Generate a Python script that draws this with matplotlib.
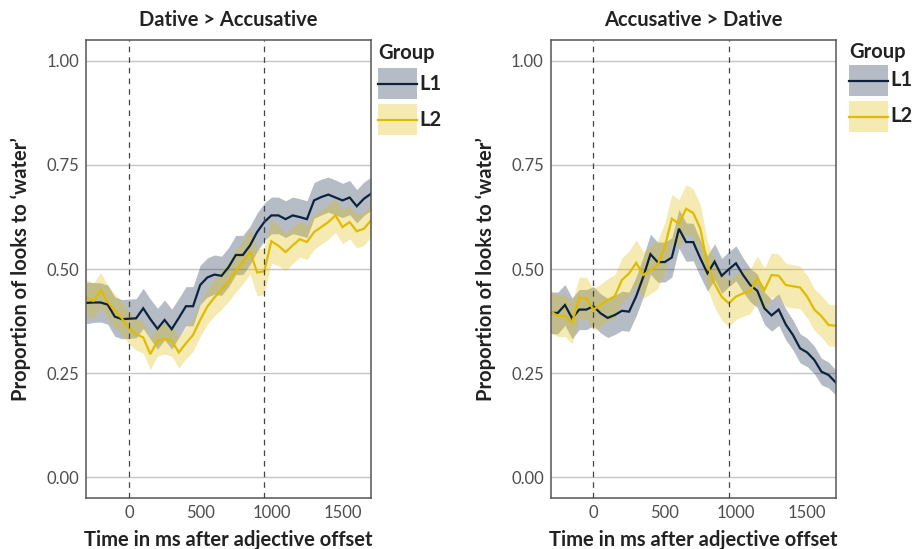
import matplotlib
matplotlib.use("Agg")
import matplotlib.pyplot as plt
from matplotlib.patches import Rectangle
from matplotlib.lines import Line2D

plt.rcParams['font.family'] = ['Lato', 'DejaVu Sans']

# time bins (ms after adjective offset)
time_ms = [-300, -250, -200, -150, -100, -50, 0, 50, 100, 150, 200, 250, 300,
           350, 400, 450, 500, 550, 600, 650, 700, 750, 800, 850, 900, 950,
           1000, 1050, 1100, 1150, 1200, 1250, 1300, 1350, 1400, 1450, 1500,
           1550, 1600, 1650, 1700]

# Dative > Accusative
dat_l1 = [0.419, 0.420, 0.420, 0.415, 0.386, 0.380, 0.381, 0.382, 0.406, 0.380,
          0.357, 0.378, 0.356, 0.383, 0.411, 0.411, 0.462, 0.480, 0.487, 0.484,
          0.505, 0.534, 0.534, 0.557, 0.589, 0.613, 0.629, 0.629, 0.620, 0.629,
          0.625, 0.620, 0.665, 0.673, 0.679, 0.672, 0.665, 0.672, 0.651, 0.669,
          0.681]
dat_l1_se = [0.050, 0.048, 0.047, 0.047, 0.047, 0.047, 0.047, 0.047, 0.048, 0.048,
             0.049, 0.048, 0.048, 0.047, 0.047, 0.047, 0.047, 0.047, 0.047, 0.047,
             0.047, 0.047, 0.047, 0.046, 0.046, 0.045, 0.044, 0.044, 0.044, 0.044,
             0.044, 0.044, 0.043, 0.043, 0.042, 0.042, 0.041, 0.041, 0.040, 0.040,
             0.040]
dat_l2 = [0.432, 0.424, 0.450, 0.422, 0.400, 0.382, 0.358, 0.344, 0.336, 0.296,
          0.328, 0.333, 0.328, 0.300, 0.322, 0.342, 0.378, 0.410, 0.432, 0.450,
          0.470, 0.495, 0.517, 0.543, 0.492, 0.495, 0.567, 0.556, 0.541, 0.557,
          0.572, 0.565, 0.589, 0.601, 0.613, 0.629, 0.601, 0.613, 0.591, 0.597,
          0.617]
dat_l2_se = [0.043, 0.042, 0.042, 0.040, 0.040, 0.039, 0.038, 0.038, 0.038, 0.037,
             0.037, 0.037, 0.037, 0.037, 0.038, 0.039, 0.040, 0.042, 0.044, 0.046,
             0.048, 0.050, 0.052, 0.055, 0.056, 0.056, 0.052, 0.048, 0.045, 0.044,
             0.043, 0.042, 0.042, 0.041, 0.041, 0.041, 0.040, 0.040, 0.040, 0.040,
             0.040]

# Accusative > Dative
acc_l1 = [0.395, 0.395, 0.414, 0.382, 0.403, 0.403, 0.411, 0.394, 0.383, 0.390,
          0.400, 0.398, 0.435, 0.482, 0.536, 0.517, 0.517, 0.528, 0.597, 0.565,
          0.565, 0.526, 0.490, 0.518, 0.484, 0.500, 0.514, 0.486, 0.462, 0.448,
          0.406, 0.389, 0.403, 0.367, 0.342, 0.310, 0.300, 0.282, 0.254, 0.246,
          0.228]
acc_l1_se = [0.050, 0.050, 0.049, 0.049, 0.048, 0.048, 0.047, 0.047, 0.047, 0.047,
             0.047, 0.047, 0.047, 0.048, 0.048, 0.048, 0.048, 0.047, 0.047, 0.046,
             0.045, 0.044, 0.043, 0.043, 0.042, 0.042, 0.042, 0.041, 0.040, 0.040,
             0.039, 0.038, 0.038, 0.037, 0.036, 0.035, 0.034, 0.033, 0.032, 0.031,
             0.030]
acc_l2 = [0.398, 0.388, 0.388, 0.372, 0.431, 0.430, 0.403, 0.414, 0.426, 0.435,
          0.474, 0.490, 0.515, 0.486, 0.498, 0.510, 0.553, 0.621, 0.609, 0.645,
          0.635, 0.597, 0.510, 0.465, 0.434, 0.418, 0.434, 0.442, 0.447, 0.478,
          0.450, 0.486, 0.484, 0.462, 0.459, 0.456, 0.434, 0.403, 0.387, 0.366,
          0.364]
acc_l2_se = [0.050, 0.050, 0.050, 0.050, 0.050, 0.050, 0.050, 0.050, 0.051, 0.052,
             0.053, 0.054, 0.055, 0.056, 0.057, 0.058, 0.058, 0.058, 0.058, 0.058,
             0.058, 0.058, 0.057, 0.057, 0.056, 0.056, 0.055, 0.055, 0.054, 0.054,
             0.053, 0.053, 0.052, 0.052, 0.052, 0.051, 0.051, 0.050, 0.050, 0.050,
             0.050]

groups = ['L1', 'L2']
group_colors = ['#0c2340', '#e0bc00']
y_ticks = [0.00, 0.25, 0.50, 0.75, 1.00]
x_ticks = [0, 500, 1000, 1500]
markers_ms = [0, 950]

panels = [
    ('Dative > Accusative', [(dat_l1, dat_l1_se), (dat_l2, dat_l2_se)]),
    ('Accusative > Dative', [(acc_l1, acc_l1_se), (acc_l2, acc_l2_se)]),
]

W, H = 913, 549
fig = plt.figure(figsize=(W / 100, H / 100), dpi=100)

# axes box (left, top, width, height), y-label edge, legend spot (left, title y, first key top), in pixels
axes_px = [(86.3, 40, 284.7, 458.3), (550.7, 40, 285.0, 458.3)]
ylabel_px = [31, 496]
legend_px = [(378, 53, 68), (849, 52, 65)]
key_w, key_h, key_step = 39, 31, 36

text_col = '#222222'
tick_col = '#4d4d4d'
big = 14.5


def fx(px):
    return px / W


def fy(py):
    return 1 - py / H


for (title, series), (x0, y0, w, h), yl, (lx, ty, ky) in zip(panels, axes_px, ylabel_px, legend_px):
    ax = fig.add_axes([fx(x0), fy(y0 + h), w / W, h / H])

    for (mean, se), col in zip(series, group_colors):
        lo = [m - s for m, s in zip(mean, se)]
        hi = [m + s for m, s in zip(mean, se)]
        ax.fill_between(time_ms, lo, hi, color=col, alpha=0.3, lw=0)
    for (mean, se), col in zip(series, group_colors):
        ax.plot(time_ms, mean, color=col, lw=1.6, solid_joinstyle='miter')

    for xm in markers_ms:
        ax.axvline(xm, color='#444444', lw=0.9, ls=(0, (4.5, 4)), zorder=3)

    ax.set_xlim(-300, 1700)
    ax.set_ylim(-0.05, 1.05)
    ax.set_xticks(x_ticks)
    ax.set_yticks(y_ticks)
    ax.set_yticklabels([f'{v:.2f}' for v in y_ticks])
    ax.tick_params(length=0, labelsize=12, labelcolor=tick_col, pad=5)
    ax.yaxis.grid(True, color='#c4c4c4', lw=1)
    ax.set_axisbelow(True)
    for sp in ax.spines.values():
        sp.set_color('#555555')
        sp.set_linewidth(1.1)

    ax.set_title(title, fontsize=big, fontweight='bold', color=text_col, pad=10)
    ax.set_xlabel('Time in ms after adjective offset', fontsize=big,
                  fontweight='bold', color=text_col, labelpad=6)
    ax.set_ylabel('Proportion of looks to \u2018water\u2019', fontsize=big,
                  fontweight='bold', color=text_col)
    ax.yaxis.set_label_coords((yl - x0) / w, 0.5)

    # legend drawn by hand so the keys sit where the original puts them
    fig.text(fx(lx), fy(ty), 'Group', fontsize=big, fontweight='bold',
             color=text_col, ha='left', va='center')
    for i, (name, col) in enumerate(zip(groups, group_colors)):
        top = ky + i * key_step
        fig.add_artist(Rectangle((fx(lx), fy(top + key_h)), key_w / W, key_h / H,
                                 transform=fig.transFigure, facecolor=col,
                                 alpha=0.3, lw=0))
        mid = fy(top + key_h / 2)
        fig.add_artist(Line2D([fx(lx), fx(lx + key_w)], [mid, mid],
                              transform=fig.transFigure, color=col, lw=1.6))
        fig.text(fx(lx + key_w + 2), mid, name, fontsize=big, fontweight='bold',
                 color=text_col, ha='left', va='center')

fig.savefig('out.png', dpi=100)
